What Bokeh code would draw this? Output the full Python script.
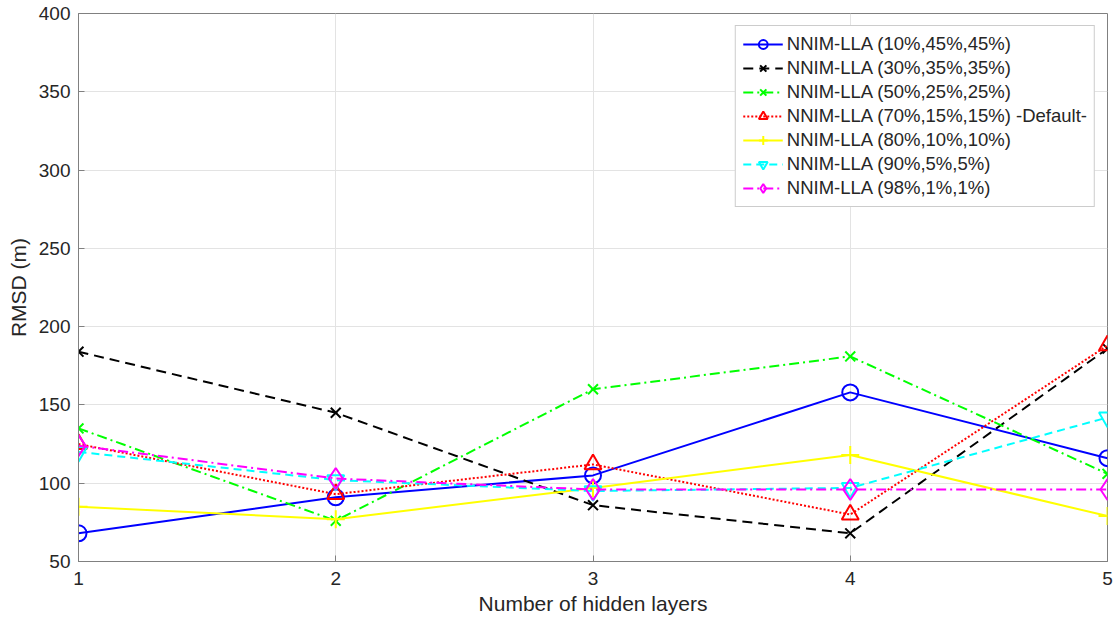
from bokeh.plotting import figure
from bokeh.models import Range1d, FixedTicker
from bokeh.embed import file_html
from bokeh.resources import INLINE

layers = [1, 2, 3, 4, 5]
s10 = [68, 91, 105, 158, 116]
s30 = [184, 145, 86, 68, 186]
s50 = [135, 76, 160, 181, 106]
s70 = [125, 93, 112, 80, 188]
s80 = [85, 77, 97, 118, 79]
s90 = [120, 102, 95, 97, 142]
s98 = [124, 103, 96, 96, 96]

labels = [
    "NNIM-LLA (10%,45%,45%)",
    "NNIM-LLA (30%,35%,35%)",
    "NNIM-LLA (50%,25%,25%)",
    "NNIM-LLA (70%,15%,15%) -Default-",
    "NNIM-LLA (80%,10%,10%)",
    "NNIM-LLA (90%,5%,5%)",
    "NNIM-LLA (98%,1%,1%)",
]
y_ticks = [50, 100, 150, 200, 250, 300, 350, 400]

FONT = "Liberation Sans"
TXT = "#262626"
AX = "#808080"

p = figure(width=1114, height=624, output_backend="svg", toolbar_location=None,
           x_range=Range1d(1, 5), y_range=Range1d(50, 400),
           min_border_left=78, min_border_right=7, min_border_top=13, min_border_bottom=63)

series = [
    (s10, "#0000ff", "solid", "circle", 16),
    (s30, "#000000", "10 6", "x", 14),
    (s50, "#00ff00", "10 4 2 4", "x", 14),
    (s70, "#ff0000", "2 2", "triangle", 17),
    (s80, "#ffff00", "solid", "cross", 18),
    (s90, "#00ffff", "8 5", "inverted_triangle", 17),
    (s98, "#ff00ff", "10 4 2 4", "diamond", 21),
]
for (vals, col, dash, mk, sz), lab in zip(series, labels):
    p.line(layers, vals, line_color=col, line_width=2, line_dash=dash, legend_label=lab)
    p.scatter(layers, vals, marker=mk, size=sz, line_color=col, line_width=2,
              fill_color=None, legend_label=lab)

for ax in (p.xaxis[0], p.yaxis[0]):
    ax.axis_line_color = AX
    ax.major_tick_line_color = AX
    ax.major_tick_in = 6
    ax.major_tick_out = 0
    ax.minor_tick_line_color = None
    ax.major_label_text_font = FONT
    ax.major_label_text_font_size = "19px"
    ax.major_label_text_color = TXT
    ax.axis_label_text_font = FONT
    ax.axis_label_text_font_size = "21px"
    ax.axis_label_text_color = TXT
    ax.axis_label_text_font_style = "normal"

p.xaxis.ticker = FixedTicker(ticks=layers)
p.yaxis.ticker = FixedTicker(ticks=y_ticks)
p.xaxis.axis_label = "Number of hidden layers"
p.yaxis.axis_label = "RMSD (m)"
p.xaxis.major_label_standoff = 10
p.xaxis.axis_label_standoff = 4
p.yaxis.major_label_standoff = 8
p.yaxis.axis_label_standoff = 6

p.xgrid.grid_line_color = "#e3e3e3"
p.ygrid.grid_line_color = "#e3e3e3"
p.outline_line_color = AX
p.outline_line_alpha = 1.0
p.background_fill_color = "white"
p.border_fill_color = "white"

leg = p.legend[0]
leg.location = "top_right"
leg.margin = 12
leg.border_line_color = "#999999"
leg.border_line_width = 1
leg.label_text_font = FONT
leg.label_text_font_size = "18.5px"
leg.label_text_color = TXT
leg.glyph_width = 40
leg.glyph_height = 22
leg.label_height = 22
leg.spacing = 2
leg.padding = 7
leg.label_standoff = 4
leg.background_fill_alpha = 1.0

open("out.html", "w").write(file_html(p, INLINE))
